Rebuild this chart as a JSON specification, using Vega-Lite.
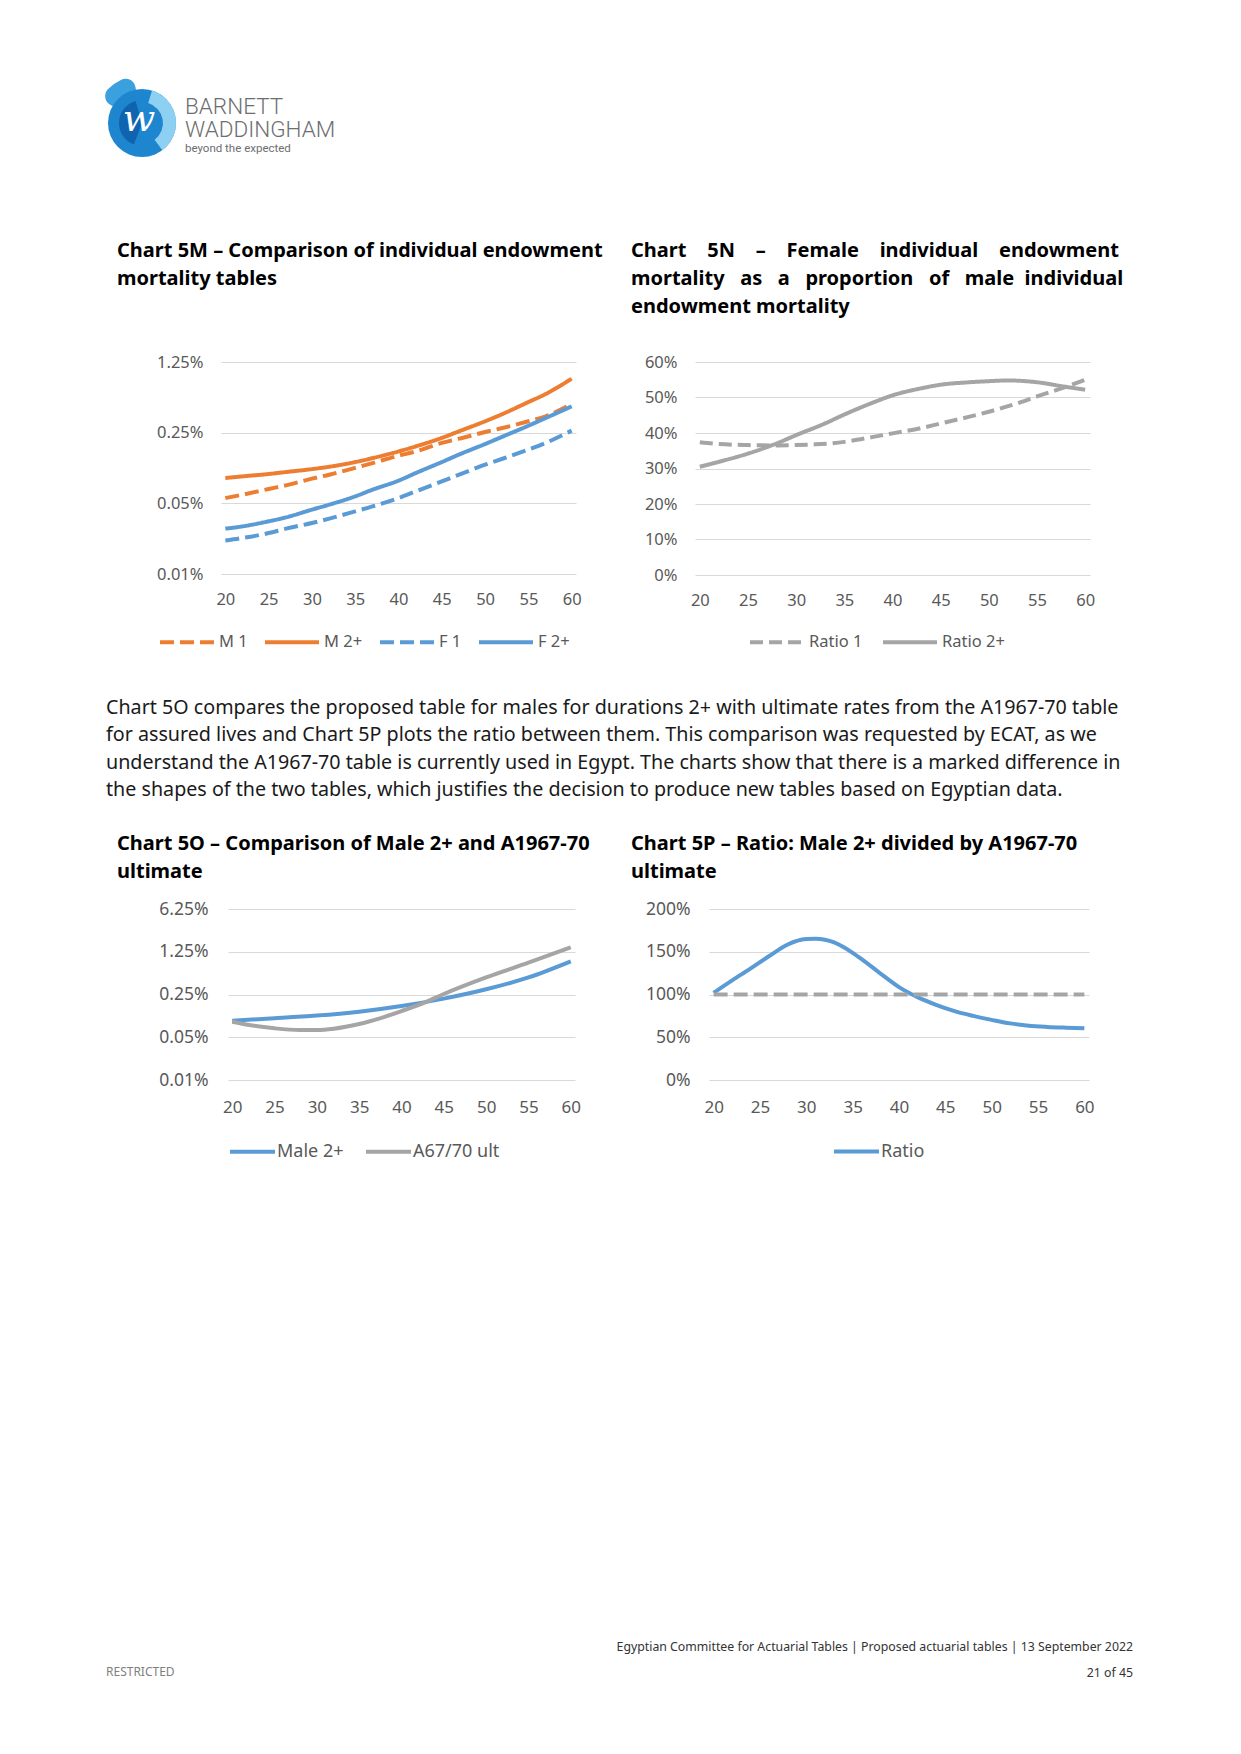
{
  "$schema": "https://vega.github.io/schema/vega-lite/v6.json",
  "padding": 0,
  "autosize": {"type": "pad"},
  "background": "white",
  "bounds": "flush",
  "spacing": 0,
  "config": {
    "view": {"stroke": null},
    "axis": {"domain": false, "ticks": false, "labelFont": "Noto Sans", "labelColor": "#595959", "gridColor": "#D9D9D9", "gridWidth": 1, "labelFlush": false, "labelOverlap": false, "title": null},
    "legend": {"padding": 0, "labelLimit": 400}
  },
  "resolve": {"scale": {"x": "independent", "y": "independent", "color": "independent", "strokeDash": "independent"}, "legend": {"color": "independent", "strokeDash": "independent"}},
  "datasets": {
    "m5": [
      {"age": 20, "series": "M 1", "q": 0.000564}, {"age": 22, "series": "M 1", "q": 0.000609}, {"age": 25, "series": "M 1", "q": 0.000693}, {"age": 27, "series": "M 1", "q": 0.000753}, {"age": 30, "series": "M 1", "q": 0.000877}, {"age": 32, "series": "M 1", "q": 0.00096}, {"age": 35, "series": "M 1", "q": 0.00112}, {"age": 37, "series": "M 1", "q": 0.00125}, {"age": 40, "series": "M 1", "q": 0.00148}, {"age": 42, "series": "M 1", "q": 0.00163}, {"age": 45, "series": "M 1", "q": 0.00198}, {"age": 47, "series": "M 1", "q": 0.00218}, {"age": 50, "series": "M 1", "q": 0.00254}, {"age": 52, "series": "M 1", "q": 0.00278}, {"age": 55, "series": "M 1", "q": 0.00324}, {"age": 57, "series": "M 1", "q": 0.00363}, {"age": 60, "series": "M 1", "q": 0.0048},
      {"age": 20, "series": "M 2+", "q": 0.00089}, {"age": 22, "series": "M 2+", "q": 0.000924}, {"age": 25, "series": "M 2+", "q": 0.000975}, {"age": 27, "series": "M 2+", "q": 0.00102}, {"age": 30, "series": "M 2+", "q": 0.00109}, {"age": 32, "series": "M 2+", "q": 0.00115}, {"age": 35, "series": "M 2+", "q": 0.00128}, {"age": 37, "series": "M 2+", "q": 0.0014}, {"age": 40, "series": "M 2+", "q": 0.00163}, {"age": 42, "series": "M 2+", "q": 0.00183}, {"age": 45, "series": "M 2+", "q": 0.00222}, {"age": 47, "series": "M 2+", "q": 0.00258}, {"age": 50, "series": "M 2+", "q": 0.00324}, {"age": 52, "series": "M 2+", "q": 0.00382}, {"age": 55, "series": "M 2+", "q": 0.00502}, {"age": 57, "series": "M 2+", "q": 0.00603}, {"age": 60, "series": "M 2+", "q": 0.00855},
      {"age": 20, "series": "F 1", "q": 0.000214}, {"age": 22, "series": "F 1", "q": 0.000227}, {"age": 25, "series": "F 1", "q": 0.000254}, {"age": 27, "series": "F 1", "q": 0.000281}, {"age": 30, "series": "F 1", "q": 0.000319}, {"age": 32, "series": "F 1", "q": 0.000353}, {"age": 35, "series": "F 1", "q": 0.000417}, {"age": 37, "series": "F 1", "q": 0.000467}, {"age": 40, "series": "F 1", "q": 0.000564}, {"age": 42, "series": "F 1", "q": 0.000657}, {"age": 45, "series": "F 1", "q": 0.000825}, {"age": 47, "series": "F 1", "q": 0.00096}, {"age": 50, "series": "F 1", "q": 0.001205}, {"age": 52, "series": "F 1", "q": 0.00138}, {"age": 55, "series": "F 1", "q": 0.0017}, {"age": 57, "series": "F 1", "q": 0.00198}, {"age": 60, "series": "F 1", "q": 0.00262},
      {"age": 20, "series": "F 2+", "q": 0.000281}, {"age": 22, "series": "F 2+", "q": 0.000296}, {"age": 25, "series": "F 2+", "q": 0.000332}, {"age": 27, "series": "F 2+", "q": 0.000363}, {"age": 30, "series": "F 2+", "q": 0.000433}, {"age": 32, "series": "F 2+", "q": 0.000485}, {"age": 35, "series": "F 2+", "q": 0.000586}, {"age": 37, "series": "F 2+", "q": 0.000682}, {"age": 40, "series": "F 2+", "q": 0.000838}, {"age": 42, "series": "F 2+", "q": 0.000997}, {"age": 45, "series": "F 2+", "q": 0.00128}, {"age": 47, "series": "F 2+", "q": 0.00152}, {"age": 50, "series": "F 2+", "q": 0.00193}, {"age": 52, "series": "F 2+", "q": 0.00228}, {"age": 55, "series": "F 2+", "q": 0.00293}, {"age": 57, "series": "F 2+", "q": 0.00349}, {"age": 60, "series": "F 2+", "q": 0.00455}
    ],
    "n5": [
      {"age": 20, "series": "Ratio 1", "r": 0.374}, {"age": 22, "series": "Ratio 1", "r": 0.369}, {"age": 25, "series": "Ratio 1", "r": 0.366}, {"age": 28, "series": "Ratio 1", "r": 0.365}, {"age": 30, "series": "Ratio 1", "r": 0.366}, {"age": 32, "series": "Ratio 1", "r": 0.368}, {"age": 35, "series": "Ratio 1", "r": 0.375}, {"age": 38, "series": "Ratio 1", "r": 0.389}, {"age": 40, "series": "Ratio 1", "r": 0.399}, {"age": 43, "series": "Ratio 1", "r": 0.414}, {"age": 45, "series": "Ratio 1", "r": 0.427}, {"age": 48, "series": "Ratio 1", "r": 0.446}, {"age": 50, "series": "Ratio 1", "r": 0.46}, {"age": 53, "series": "Ratio 1", "r": 0.484}, {"age": 55, "series": "Ratio 1", "r": 0.503}, {"age": 58, "series": "Ratio 1", "r": 0.53}, {"age": 60, "series": "Ratio 1", "r": 0.55},
      {"age": 20, "series": "Ratio 2+", "r": 0.305}, {"age": 22, "series": "Ratio 2+", "r": 0.319}, {"age": 25, "series": "Ratio 2+", "r": 0.342}, {"age": 28, "series": "Ratio 2+", "r": 0.371}, {"age": 30, "series": "Ratio 2+", "r": 0.394}, {"age": 33, "series": "Ratio 2+", "r": 0.427}, {"age": 35, "series": "Ratio 2+", "r": 0.452}, {"age": 38, "series": "Ratio 2+", "r": 0.486}, {"age": 40, "series": "Ratio 2+", "r": 0.506}, {"age": 43, "series": "Ratio 2+", "r": 0.526}, {"age": 45, "series": "Ratio 2+", "r": 0.536}, {"age": 48, "series": "Ratio 2+", "r": 0.543}, {"age": 50, "series": "Ratio 2+", "r": 0.546}, {"age": 52, "series": "Ratio 2+", "r": 0.548}, {"age": 55, "series": "Ratio 2+", "r": 0.543}, {"age": 58, "series": "Ratio 2+", "r": 0.53}, {"age": 60, "series": "Ratio 2+", "r": 0.522}
    ],
    "o5": [
      {"age": 20, "series": "Male 2+", "q": 0.000934}, {"age": 25, "series": "Male 2+", "q": 0.00102}, {"age": 30, "series": "Male 2+", "q": 0.00113}, {"age": 35, "series": "Male 2+", "q": 0.00131}, {"age": 40, "series": "Male 2+", "q": 0.00162}, {"age": 45, "series": "Male 2+", "q": 0.00214}, {"age": 50, "series": "Male 2+", "q": 0.00304}, {"age": 55, "series": "Male 2+", "q": 0.00475}, {"age": 60, "series": "Male 2+", "q": 0.00872},
      {"age": 20, "series": "A67/70 ult", "q": 0.000899}, {"age": 22, "series": "A67/70 ult", "q": 0.000793}, {"age": 25, "series": "A67/70 ult", "q": 0.0007}, {"age": 28, "series": "A67/70 ult", "q": 0.000657}, {"age": 30, "series": "A67/70 ult", "q": 0.000657}, {"age": 32, "series": "A67/70 ult", "q": 0.00069}, {"age": 35, "series": "A67/70 ult", "q": 0.000823}, {"age": 38, "series": "A67/70 ult", "q": 0.00108}, {"age": 40, "series": "A67/70 ult", "q": 0.00134}, {"age": 43, "series": "A67/70 ult", "q": 0.00191}, {"age": 45, "series": "A67/70 ult", "q": 0.00255}, {"age": 50, "series": "A67/70 ult", "q": 0.00477}, {"age": 55, "series": "A67/70 ult", "q": 0.00828}, {"age": 60, "series": "A67/70 ult", "q": 0.01475}
    ],
    "p5": [
      {"age": 20, "series": "Ratio", "r": 1.02}, {"age": 22, "series": "Ratio", "r": 1.165}, {"age": 24, "series": "Ratio", "r": 1.305}, {"age": 26, "series": "Ratio", "r": 1.45}, {"age": 28, "series": "Ratio", "r": 1.585}, {"age": 30, "series": "Ratio", "r": 1.648}, {"age": 31, "series": "Ratio", "r": 1.652}, {"age": 32, "series": "Ratio", "r": 1.641}, {"age": 33, "series": "Ratio", "r": 1.609}, {"age": 34, "series": "Ratio", "r": 1.555}, {"age": 35, "series": "Ratio", "r": 1.487}, {"age": 36, "series": "Ratio", "r": 1.41}, {"age": 38, "series": "Ratio", "r": 1.245}, {"age": 40, "series": "Ratio", "r": 1.086}, {"age": 42, "series": "Ratio", "r": 0.969}, {"age": 44, "series": "Ratio", "r": 0.879}, {"age": 46, "series": "Ratio", "r": 0.805}, {"age": 48, "series": "Ratio", "r": 0.75}, {"age": 50, "series": "Ratio", "r": 0.703}, {"age": 52, "series": "Ratio", "r": 0.662}, {"age": 54, "series": "Ratio", "r": 0.635}, {"age": 56, "series": "Ratio", "r": 0.621}, {"age": 58, "series": "Ratio", "r": 0.612}, {"age": 60, "series": "Ratio", "r": 0.605}
    ],
    "p5ref": [{"age": 20, "r": 1}, {"age": 60, "r": 1}]
  },
  "vconcat": [
    {"width": 1, "height": 73, "data": {"values": []}, "mark": "point"},
    {
      "hconcat": [
        {"width": 104, "height": 100, "data": {"values": []}, "mark": "point"},
        {
          "width": 76, "height": 100,
          "data": {"values": [{"k": 1}]},
          "layer": [
            {"mark": {"type": "arc", "theta": -1.05, "theta2": -0.18, "outerRadius": 48, "cornerRadius": 10, "color": "#3BA0DE"}, "encoding": {}},
            {"mark": {"type": "arc", "theta": 0, "theta2": 6.2832, "outerRadius": 34, "color": "#1E86CF"}, "encoding": {}},
            {"mark": {"type": "arc", "theta": 0.3, "theta2": 2.5, "innerRadius": 21, "outerRadius": 34, "color": "#8DD0F2"}, "encoding": {}},
            {"mark": {"type": "arc", "theta": 3.5, "theta2": 6.0, "outerRadius": 23, "color": "#0F63AF"}, "encoding": {}},
            {"mark": {"type": "text", "text": "w", "font": "DejaVu Serif", "fontStyle": "italic", "fontSize": 38, "color": "white", "dx": -3, "dy": -3}, "encoding": {}}
          ]
        },
        {"width": 5, "height": 20, "data": {"values": []}, "mark": "point"},
        {
          "width": 170, "height": 20, "data": {"values": []}, "mark": "point",
          "title": {"text": ["BARNETT", "WADDINGHAM"], "orient": "bottom", "anchor": "start", "frame": "group", "offset": 3, "font": "Roboto", "fontWeight": 300, "fontSize": 22.5, "lineHeight": 22.5, "color": "#6D6E71", "subtitle": "beyond the expected", "subtitleFont": "Roboto", "subtitleFontSize": 11.5, "subtitleColor": "#6D6E71", "subtitlePadding": 2}
        }
      ],
      "bounds": "flush", "spacing": 0
    },
    {"width": 1, "height": 289, "data": {"values": []}, "mark": "point"},
    {
      "hconcat": [
        {"width": 221, "height": 1, "data": {"values": []}, "mark": "point"},
        {
          "width": 355, "height": 212,
          "data": {"name": "m5"},
          "title": {"text": ["Chart 5M – Comparison of individual endowment", "mortality tables"], "anchor": "start", "frame": "group", "dx": -104, "offset": 65, "font": "Noto Sans", "fontSize": 20, "fontWeight": "bold", "color": "#000000", "lineHeight": 28, "limit": 0},
          "mark": {"type": "line", "strokeWidth": 4, "interpolate": "monotone"},
          "encoding": {
            "x": {"field": "age", "type": "quantitative", "scale": {"domain": [19.5, 60.5], "nice": false, "zero": false}, "axis": {"values": [20, 25, 30, 35, 40, 45, 50, 55, 60], "grid": false, "labelFontSize": 16.5, "labelPadding": 17.5}},
            "y": {"field": "q", "type": "quantitative", "scale": {"type": "log", "base": 5, "domain": [0.0001, 0.0125], "nice": false}, "axis": {"values": [0.0001, 0.0005, 0.0025, 0.0125], "format": ".2%", "grid": true, "labelFontSize": 16.5, "labelPadding": 18}},
            "color": {"field": "series", "type": "nominal", "scale": {"domain": ["M 1", "M 2+", "F 1", "F 2+"], "range": ["#ED7D31", "#ED7D31", "#5B9BD5", "#5B9BD5"]}, "legend": {"orient": "none", "legendX": -63, "legendY": 251, "direction": "horizontal", "title": null, "symbolType": "stroke", "symbolSize": 2916, "symbolStrokeWidth": 4, "labelFont": "Noto Sans", "labelFontSize": 16.5, "labelColor": "#595959", "labelOffset": 3, "columnPadding": 9}},
            "strokeDash": {"field": "series", "type": "nominal", "scale": {"domain": ["M 1", "M 2+", "F 1", "F 2+"], "range": [[14, 6], [1, 0], [14, 6], [1, 0]]}, "legend": {"orient": "none", "legendX": -63, "legendY": 251, "direction": "horizontal", "title": null, "symbolType": "stroke", "symbolSize": 2916, "symbolStrokeWidth": 4, "labelFont": "Noto Sans", "labelFontSize": 16.5, "labelColor": "#595959", "labelOffset": 3, "columnPadding": 9}}
          }
        },
        {"width": 119, "height": 1, "data": {"values": []}, "mark": "point"},
        {
          "width": 395, "height": 213,
          "data": {"name": "n5"},
          "title": {"text": ["Chart\u00a0\u00a0\u00a0 5N\u00a0\u00a0\u00a0 –\u00a0\u00a0\u00a0 Female\u00a0\u00a0\u00a0 individual\u00a0\u00a0\u00a0 endowment", "mortality\u00a0\u00a0 as\u00a0\u00a0 a\u00a0\u00a0 proportion\u00a0\u00a0 of\u00a0\u00a0 male\u00a0 individual", "endowment mortality"], "anchor": "start", "frame": "group", "dx": -64, "offset": 37, "font": "Noto Sans", "fontSize": 20, "fontWeight": "bold", "color": "#000000", "lineHeight": 28, "limit": 0},
          "mark": {"type": "line", "strokeWidth": 4, "interpolate": "monotone"},
          "encoding": {
            "x": {"field": "age", "type": "quantitative", "scale": {"domain": [19.5, 60.5], "nice": false, "zero": false}, "axis": {"values": [20, 25, 30, 35, 40, 45, 50, 55, 60], "grid": false, "labelFontSize": 16.5, "labelPadding": 17.5}},
            "y": {"field": "r", "type": "quantitative", "scale": {"domain": [0, 0.6], "nice": false}, "axis": {"values": [0, 0.1, 0.2, 0.3, 0.4, 0.5, 0.6], "format": ".0%", "grid": true, "labelFontSize": 16.5, "labelPadding": 18}},
            "color": {"field": "series", "type": "nominal", "scale": {"domain": ["Ratio 1", "Ratio 2+"], "range": ["#A5A5A5", "#A5A5A5"]}, "legend": {"orient": "none", "legendX": 53, "legendY": 251, "direction": "horizontal", "title": null, "symbolType": "stroke", "symbolSize": 2916, "symbolStrokeWidth": 4, "labelFont": "Noto Sans", "labelFontSize": 16.5, "labelColor": "#595959", "labelOffset": 3, "columnPadding": 12}},
            "strokeDash": {"field": "series", "type": "nominal", "scale": {"domain": ["Ratio 1", "Ratio 2+"], "range": [[13, 6], [1, 0]]}, "legend": {"orient": "none", "legendX": 53, "legendY": 251, "direction": "horizontal", "title": null, "symbolType": "stroke", "symbolSize": 2916, "symbolStrokeWidth": 4, "labelFont": "Noto Sans", "labelFontSize": 16.5, "labelColor": "#595959", "labelOffset": 3, "columnPadding": 12}}
          }
        }
      ],
      "bounds": "flush", "spacing": 0,
      "resolve": {"scale": {"x": "independent", "y": "independent", "color": "independent", "strokeDash": "independent"}, "legend": {"color": "independent", "strokeDash": "independent"}}
    },
    {"width": 1, "height": 441, "data": {"values": []}, "mark": "point"},
    {
      "hconcat": [
        {"width": 106, "height": 1, "data": {"values": []}, "mark": "point"},
        {
          "width": 1020, "height": 106, "data": {"values": []}, "mark": "point",
          "title": {"text": ["Chart 5O compares the proposed table for males for durations 2+ with ultimate rates from the A1967-70 table", "for assured lives and Chart 5P plots the ratio between them. This comparison was requested by ECAT, as we", "understand the A1967-70 table is currently used in Egypt. The charts show that there is a marked difference in", "the shapes of the two tables, which justifies the decision to produce new tables based on Egyptian data."], "anchor": "start", "frame": "group", "offset": 3, "font": "Noto Sans", "fontSize": 19.7, "fontWeight": "normal", "color": "#1A1A1A", "lineHeight": 27.6, "limit": 0}
        }
      ],
      "bounds": "flush", "spacing": 0
    },
    {"width": 1, "height": 106, "data": {"values": []}, "mark": "point"},
    {
      "hconcat": [
        {"width": 228, "height": 1, "data": {"values": []}, "mark": "point"},
        {
          "width": 347, "height": 171,
          "data": {"name": "o5"},
          "title": {"text": ["Chart 5O – Comparison of Male 2+ and A1967-70", "ultimate"], "anchor": "start", "frame": "group", "dx": -111, "offset": 18, "font": "Noto Sans", "fontSize": 20, "fontWeight": "bold", "color": "#000000", "lineHeight": 28, "limit": 0},
          "mark": {"type": "line", "strokeWidth": 4, "interpolate": "monotone"},
          "encoding": {
            "x": {"field": "age", "type": "quantitative", "scale": {"domain": [19.5, 60.5], "nice": false, "zero": false}, "axis": {"values": [20, 25, 30, 35, 40, 45, 50, 55, 60], "grid": false, "labelFontSize": 17, "labelPadding": 19}},
            "y": {"field": "q", "type": "quantitative", "scale": {"type": "log", "base": 5, "domain": [0.0001, 0.0625], "nice": false}, "axis": {"values": [0.0001, 0.0005, 0.0025, 0.0125, 0.0625], "format": ".2%", "grid": true, "labelFontSize": 17.5, "labelPadding": 20}},
            "color": {"field": "series", "type": "nominal", "scale": {"domain": ["Male 2+", "A67/70 ult"], "range": ["#5B9BD5", "#A5A5A5"]}, "legend": {"orient": "none", "legendX": 0, "legendY": 218, "direction": "horizontal", "title": null, "symbolType": "stroke", "symbolSize": 2025, "symbolStrokeWidth": 4, "labelFont": "Noto Sans", "labelFontSize": 18, "labelColor": "#595959", "labelOffset": 0, "columnPadding": 14}}
          }
        },
        {"width": 134, "height": 1, "data": {"values": []}, "mark": "point"},
        {
          "width": 380, "height": 171,
          "title": {"text": ["Chart 5P – Ratio: Male 2+ divided by A1967-70", "ultimate"], "anchor": "start", "frame": "group", "dx": -78, "offset": 18, "font": "Noto Sans", "fontSize": 20, "fontWeight": "bold", "color": "#000000", "lineHeight": 28, "limit": 0},
          "layer": [
            {
              "data": {"name": "p5"},
              "mark": {"type": "line", "strokeWidth": 4, "interpolate": "monotone"},
              "encoding": {
                "x": {"field": "age", "type": "quantitative"},
                "y": {"field": "r", "type": "quantitative"},
                "color": {"field": "series", "type": "nominal", "scale": {"domain": ["Ratio"], "range": ["#5B9BD5"]}, "legend": {"orient": "none", "legendX": 123, "legendY": 218, "direction": "horizontal", "title": null, "symbolType": "stroke", "symbolSize": 2025, "symbolStrokeWidth": 4, "labelFont": "Noto Sans", "labelFontSize": 18, "labelColor": "#595959", "labelOffset": 0}}
              }
            },
            {
              "data": {"name": "p5ref"},
              "mark": {"type": "line", "strokeWidth": 4, "color": "#A5A5A5", "strokeDash": [14, 6]},
              "encoding": {
                "x": {"field": "age", "type": "quantitative"},
                "y": {"field": "r", "type": "quantitative"}
              }
            }
          ],
          "encoding": {
            "x": {"field": "age", "type": "quantitative", "scale": {"domain": [19.5, 60.5], "nice": false, "zero": false}, "axis": {"values": [20, 25, 30, 35, 40, 45, 50, 55, 60], "grid": false, "labelFontSize": 17, "labelPadding": 19}},
            "y": {"field": "r", "type": "quantitative", "scale": {"domain": [0, 2], "nice": false}, "axis": {"values": [0, 0.5, 1, 1.5, 2], "format": ".0%", "grid": true, "labelFontSize": 17.5, "labelPadding": 19}}
          }
        }
      ],
      "bounds": "flush", "spacing": 0,
      "resolve": {"scale": {"x": "independent", "y": "independent", "color": "independent", "strokeDash": "independent"}, "legend": {"color": "independent", "strokeDash": "independent"}}
    },
    {"width": 1, "height": 781, "data": {"values": []}, "mark": "point"},
    {
      "hconcat": [
        {"width": 106, "height": 1, "data": {"values": []}, "mark": "point"},
        {"width": 400, "height": 20, "data": {"values": []}, "mark": "point",
          "title": {"text": "RESTRICTED", "anchor": "start", "frame": "group", "offset": 11, "font": "Noto Sans", "fontSize": 12, "fontWeight": "normal", "color": "#808080"}},
        {"width": 627, "height": 20, "data": {"values": []}, "mark": "point",
          "title": {"text": ["Egyptian Committee for Actuarial Tables  |  Proposed actuarial tables  |  13 September 2022", "21 of 45"], "anchor": "end", "frame": "group", "offset": 11, "font": "Noto Sans", "fontSize": 12.3, "fontWeight": "normal", "color": "#333333", "lineHeight": 26, "limit": 0}}
      ],
      "bounds": "flush", "spacing": 0
    }
  ]
}
